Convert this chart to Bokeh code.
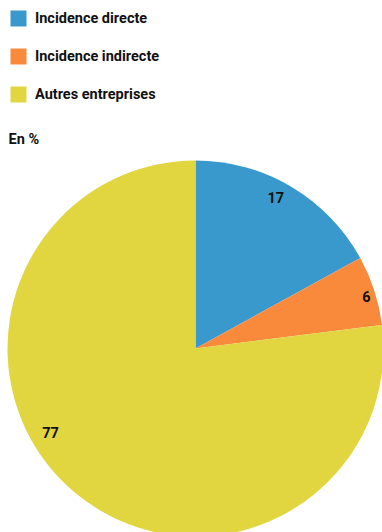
import math
from bokeh.plotting import figure
from bokeh.models import Range1d, Legend, LegendItem
from bokeh.core.properties import value
from bokeh.embed import file_html
from bokeh.resources import INLINE

# Data
categories = ["Incidence directe", "Incidence indirecte", "Autres entreprises"]
values = [17, 6, 77]
labels = ["17", "6", "77"]
colors = ["#3a99cc", "#f98a3c", "#e2d640"]
unit_label = "En %"

FONT = "Roboto"
FS = "14.5px"
W, H = 382, 532
cx, cy, R = 195, H - 348, 188
label_r = [0.91, 0.95, 0.89]
label_shift = [2.6, -1.0, -18.6]  # degrees, counter-clockwise tweak

p = figure(width=W, height=H, x_range=Range1d(0, W), y_range=Range1d(0, H),
           output_backend="svg", toolbar_location=None, min_border=0)
p.axis.visible = False
p.grid.visible = False
p.outline_line_color = None

total = sum(values)
start = 90.0
starts, ends, mids = [], [], []
for v in values:
    sweep = v / total * 360.0
    end = start - sweep
    starts.append(math.radians(start))
    ends.append(math.radians(end))
    mids.append(start - sweep / 2)
    start = end

items = []
for i in range(len(values)):
    r = p.wedge(x=cx, y=cy, radius=R, start_angle=starts[i], end_angle=ends[i],
                direction="clock", fill_color=colors[i], line_color=None)
    items.append(LegendItem(label=categories[i], renderers=[r]))

lx, ly = [], []
for i in range(len(values)):
    a = math.radians(mids[i] + label_shift[i])
    lx.append(cx + label_r[i] * R * math.cos(a))
    ly.append(cy + label_r[i] * R * math.sin(a))
p.text(x=lx, y=ly, text=labels, text_font=value(FONT), text_font_style="bold",
       text_font_size=FS, text_align="center", text_baseline="middle", text_color="#111111")

p.text(x=[8], y=[H - 139], text=[unit_label], text_font=value(FONT), text_font_style="bold",
       text_font_size=FS, text_align="left", text_baseline="middle", text_color="#111111")

legend = Legend(items=items, location="top_left", margin=0, padding=8, spacing=18,
                glyph_width=20, glyph_height=20, label_standoff=7,
                label_text_font=FONT, label_text_font_style="bold", label_text_font_size=FS,
                label_text_color="#111111", label_height=20,
                border_line_alpha=0, background_fill_alpha=0)
p.add_layout(legend)

open("out.html", "w").write(file_html(p, INLINE))
